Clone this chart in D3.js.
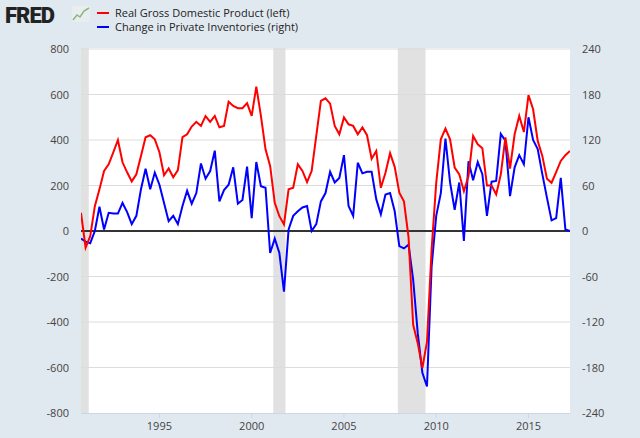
<!DOCTYPE html>
<html><head><meta charset="utf-8">
<script src="https://cdn.jsdelivr.net/npm/d3@7"></script>
<style>body{margin:0;background:#e1e9f0;font-family:"Open Sans",Arial,sans-serif}</style>
</head><body><svg id="c" width="640" height="438"></svg>
<script>
const startYear = 1990.75; // quarterly from 1990Q4
const gdp = [80,-73,-23,109,183,264,293,346,400,302,258,218,249,330,412,421,403,346,245,275,236,268,413,425,459,480,462,505,480,506,456,462,568,550,540,540,562,
506,635,506,359,286,124,65,29,183,190,293,264,215,264,418,572,583,560,462,425,499,469,462,425,455,421,318,352,190,256,342,282,168,131,-27,
-412,-493,-603,-486,-82,212,403,450,403,279,249,175,242,418,381,364,200,200,161,249,411,274,425,506,435,597,535,396,330,230,212,259,308,333,352];
const inv = [-10,-14,-16,0,32,2,24,23,23,37,25,9,20,55,82,55,77,61,37,13,20,9,33,53,36,50,89,69,79,106,39,54,61,84,36,41,85,
17,91,59,57,-29,-10,-29,-80,2,20,26,31,33,0,9,39,50,78,64,70,100,33,20,90,76,78,78,42,22,48,50,26,-20,-23,-18,
-64,-135,-187,-205,-47,20,50,122,64,28,64,-13,92,67,91,75,20,65,66,128,119,46,84,100,88,150,120,108,75,44,14,17,70,2,0];
const leftTicks = [800,600,400,200,0,-200,-400,-600,-800];
const rightTicks = [240,180,120,60,0,-60,-120,-180,-240];
const yearTicks = [1995,2000,2005,2010,2015];
const recessions = [[1990.5,1991.17],[2001.17,2001.83],[2007.92,2009.42]];

const svg = d3.select("#c");
const L=81,R=570,T=48,B=413;
const x = d3.scaleLinear().domain([1990.75,2017.25]).range([L,R]);
const yL = d3.scaleLinear().domain([-800,800]).range([413,49]);
const yR = d3.scaleLinear().domain([-240,240]).range([413,49]);
svg.append("defs").append("clipPath").attr("id","cp").append("rect").attr("x",L).attr("y",T).attr("width",R-L).attr("height",B-T+2);
svg.append("rect").attr("x",L).attr("y",T).attr("width",R-L).attr("height",B-T).attr("fill","#fff");
const g = svg.append("g").attr("clip-path","url(#cp)");
g.selectAll(".rec").data(recessions).join("rect").attr("x",d=>x(d[0])).attr("width",d=>x(d[1])-x(d[0]))
 .attr("y",T).attr("height",B-T).attr("fill","#e1e1e1");
g.selectAll(".gl").data(leftTicks.filter(d=>d!==0&&d!==-800)).join("line").attr("x1",L).attr("x2",R)
 .attr("y1",d=>yL(d)).attr("y2",d=>yL(d)).attr("stroke","#dcdcdc").attr("stroke-width",1);
svg.append("line").attr("x1",L).attr("x2",R).attr("y1",B+0.5).attr("y2",B+0.5).attr("stroke","#ccd6eb");
svg.selectAll(".tk").data(yearTicks).join("line").attr("x1",d=>x(d)).attr("x2",d=>x(d)).attr("y1",B).attr("y2",B+5).attr("stroke","#ccd6eb");
g.append("line").attr("x1",L).attr("x2",R).attr("y1",yL(0)).attr("y2",yL(0)).attr("stroke","#333").attr("stroke-width",2);
const q = i=>startYear+i/4;
g.append("path").datum(inv).attr("d",d3.line().x((d,i)=>x(q(i))).y(d=>yR(d))).attr("fill","none").attr("stroke","#0000ff").attr("stroke-width",2);
g.append("path").datum(gdp).attr("d",d3.line().x((d,i)=>x(q(i))).y(d=>yL(d))).attr("fill","none").attr("stroke","#ff0000").attr("stroke-width",2);
svg.selectAll(".lt").data(leftTicks).join("text").attr("x",69).attr("y",d=>yL(d)+4).attr("text-anchor","end")
 .attr("font-size",11).attr("fill","#444").text(d=>d);
svg.selectAll(".rt").data(rightTicks).join("text").attr("x",582).attr("y",d=>yR(d)+4).attr("text-anchor","start")
 .attr("font-size",11).attr("fill","#444").text(d=>d);
svg.selectAll(".xt").data(yearTicks).join("text").attr("x",d=>x(d)).attr("y",430).attr("text-anchor","middle")
 .attr("font-size",11).attr("fill","#444").text(d=>d);
// logo + legend
svg.append("text").attr("x",5).attr("y",23).attr("font-size",22).attr("font-weight",900).attr("fill","#222")
 .attr("font-family","Roboto, Arial").attr("letter-spacing",-1).text("FRED");
svg.append("rect").attr("x",72).attr("y",6).attr("width",18).attr("height",16).attr("fill","#e8eef0");
svg.append("polyline").attr("points","73,20 77,15 80,17 84,11 89,8").attr("fill","none").attr("stroke","#8ab87a").attr("stroke-width",1.5);
const legend=[["Real Gross Domestic Product (left)","#ff0000"],["Change in Private Inventories (right)","#0000ff"]];
legend.forEach((l,i)=>{
 svg.append("line").attr("x1",97).attr("x2",109).attr("y1",13+i*14).attr("y2",13+i*14).attr("stroke",l[1]).attr("stroke-width",2);
 svg.append("text").attr("x",115).attr("y",17+i*14).attr("font-size",11).attr("fill","#222").text(l[0]);
});
</script></body></html>
